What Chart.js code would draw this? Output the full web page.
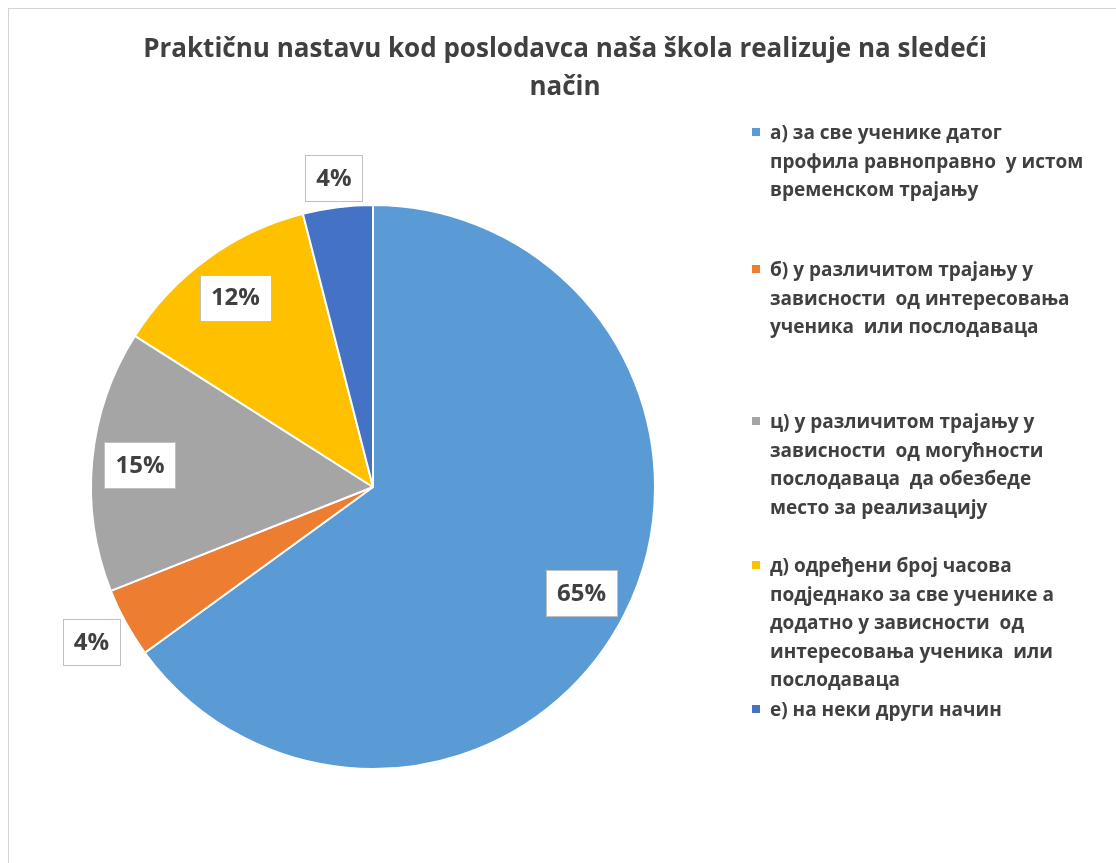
<!DOCTYPE html>
<html>
<head>
<meta charset="utf-8">
<script src="https://cdn.jsdelivr.net/npm/chart.js@4.4.0/dist/chart.umd.min.js"></script>
<style>
  html, body { margin: 0; padding: 0; background: #ffffff; }
  body { width: 1116px; height: 863px; position: relative; overflow: hidden; font-family: "Open Sans", "Noto Sans", sans-serif; }
  #frame { position: absolute; left: 8px; top: 8px; width: 1200px; height: 1000px; border-top: 1px solid #d4d4d4; border-left: 1px solid #d4d4d4; }
  #title { position: absolute; left: 0; width: 1130px; top: 28px; text-align: center; font-size: 26px; font-weight: 700; color: #404040; line-height: 38px; }
  #chartWrap { position: absolute; left: 0; top: 0; width: 1116px; height: 863px; }
  .leg { position: absolute; left: 752px; font-size: 19px; font-weight: 700; color: #404040; line-height: 28.5px; }
  .leg .sw { position: absolute; left: 0; top: 10px; width: 8px; height: 8px; }
  .leg .tx { margin-left: 18px; white-space: nowrap; }
</style>
</head>
<body>
<div id="frame"></div>
<div id="chartWrap"><canvas id="c" width="1116" height="863"></canvas></div>
<div id="title">Praktičnu nastavu kod poslodavca naša škola realizuje na sledeći<br>način</div>
<div id="legend"></div>
<script>
// ---- data ----
const categories = [
  ["а) за све ученике датог", "профила равноправно  у истом", "временском трајању"],
  ["б) у различитом трајању у", "зависности  од интересовања", "ученика  или послодаваца"],
  ["ц) у различитом трајању у", "зависности  од могућности", "послодаваца  да обезбеде", "место за реализацију"],
  ["д) одређени број часова", "подједнако за све ученике а", "додатно у зависности  од", "интересовања ученика  или", "послодаваца"],
  ["е) на неки други начин"]
];
const values = [65, 4, 15, 12, 4];
const colors = ["#5B9BD5", "#ED7D31", "#A5A5A5", "#FFC000", "#4472C4"];
const legendTops = [118, 255, 407, 551, 695];

// ---- legend (HTML text) ----
const legendEl = document.getElementById('legend');
categories.forEach((lines, i) => {
  const d = document.createElement('div');
  d.className = 'leg';
  d.style.top = legendTops[i] + 'px';
  const sw = document.createElement('div');
  sw.className = 'sw';
  sw.style.background = colors[i];
  d.appendChild(sw);
  const tx = document.createElement('div');
  tx.className = 'tx';
  tx.innerHTML = lines.map(s => s.replace(/ /g, '&nbsp;')).join('<br>');
  d.appendChild(tx);
  legendEl.appendChild(d);
});

// ---- data label plugin ----
const boxLabels = {
  id: 'boxLabels',
  afterDatasetsDraw(chart) {
    const ctx = chart.ctx;
    const meta = chart.getDatasetMeta(0);
    const data = chart.data.datasets[0].data;
    const total = data.reduce((a, b) => a + b, 0);
    ctx.save();
    ctx.font = 'bold 24px "Open Sans", "Noto Sans", sans-serif';
    ctx.textAlign = 'center';
    ctx.textBaseline = 'middle';
    meta.data.forEach((arc, i) => {
      const p = arc.getProps(['x', 'y', 'startAngle', 'endAngle', 'outerRadius'], true);
      const mid = (p.startAngle + p.endAngle) / 2;
      const pct = Math.round(data[i] / total * 100);
      const text = pct + '%';
      const tw = ctx.measureText(text).width;
      const w = tw + 22, h = 46;
      const c = Math.cos(mid), s = Math.sin(mid);
      let dist;
      if (data[i] / total < 0.05) {
        const ext = (w / 2) * Math.abs(c) + (h / 2) * Math.abs(s);
        dist = p.outerRadius + 3 + ext;
      } else {
        dist = p.outerRadius * 0.83;
      }
      const cx = p.x + c * dist, cy = p.y + s * dist;
      ctx.fillStyle = '#ffffff';
      ctx.fillRect(Math.round(cx - w / 2), Math.round(cy - h / 2), Math.round(w), h);
      ctx.strokeStyle = '#bfbfbf';
      ctx.lineWidth = 1;
      ctx.strokeRect(Math.round(cx - w / 2) + 0.5, Math.round(cy - h / 2) + 0.5, Math.round(w), h);
      ctx.fillStyle = '#404040';
      ctx.fillText(text, cx, cy + 1);
    });
    ctx.restore();
  }
};

new Chart(document.getElementById('c'), {
  type: 'pie',
  data: {
    labels: categories.map(l => l.join(' ')),
    datasets: [{
      data: values,
      backgroundColor: colors,
      borderColor: '#ffffff',
      borderWidth: 2,
      hoverOffset: 0
    }]
  },
  options: {
    responsive: false,
    animation: false,
    rotation: 0,
    layout: { padding: { left: 90, right: 460, top: 204, bottom: 93 } },
    plugins: {
      legend: { display: false },
      title: { display: false },
      tooltip: { enabled: false }
    }
  },
  plugins: [boxLabels]
});
</script>
</body>
</html>
